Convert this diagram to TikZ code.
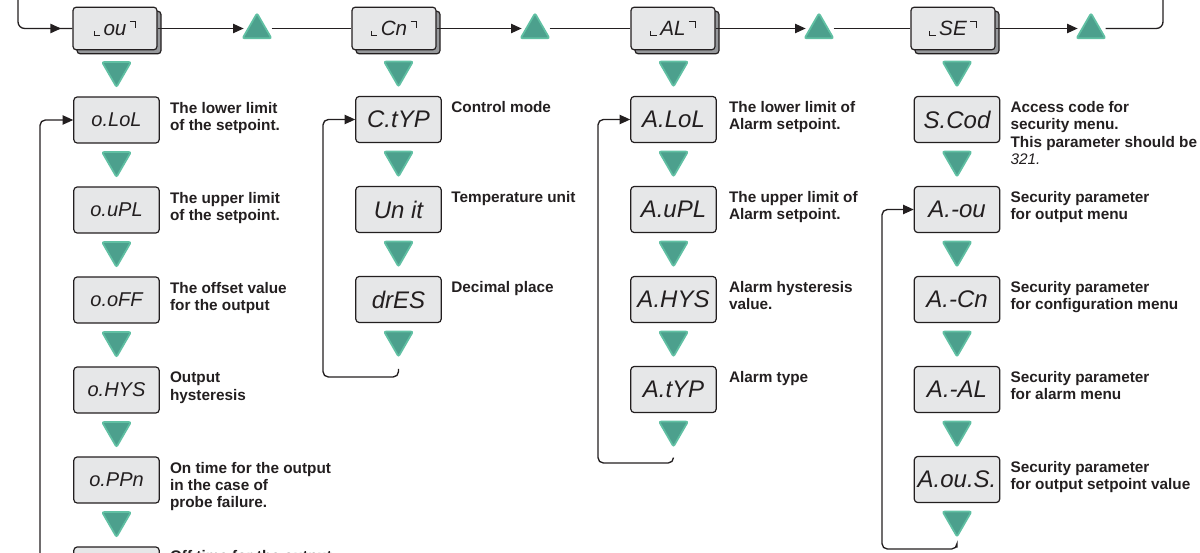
\documentclass[tikz,border=0pt]{standalone}
\usepackage{fontspec}
\setmainfont{Liberation Sans}
\newfontfamily\segfont{Liberation Sans}
\usetikzlibrary{shapes.geometric, arrows.meta, positioning, calc, shadows, decorations.markings}

\definecolor{ink}{RGB}{35,31,32}
\definecolor{panel}{RGB}{230,231,232}
\definecolor{panelshade}{RGB}{150,152,155}
\definecolor{keyfill}{RGB}{76,160,141}
\definecolor{keyedge}{RGB}{96,192,163}

\newcommand\segbig{\segfont\itshape\fontsize{18}{18}\selectfont}
\newcommand\segsmall{\segfont\itshape\fontsize{15}{15}\selectfont}
\newcommand\segtop{\segfont\itshape\fontsize{15.5}{15.5}\selectfont}
\newcommand\lcor{\rule{0.8pt}{3.5pt}\kern-0.8pt\rule{5pt}{0.8pt}\kern2.5pt}
\newcommand\rcor{\kern2.5pt\rule[10pt]{5pt}{0.8pt}\kern-0.8pt\rule[6pt]{0.8pt}{4.8pt}}

\begin{document}
\begin{tikzpicture}
  [x=0.75pt, y=-0.75pt,
  % display
  disp/.style = {rectangle,
    rounded corners=2.5pt,
    draw=ink, line width=0.9pt, fill=panel,
    minimum width=64pt, minimum height=34.5pt,
    inner sep=0pt, text=ink, font=\segbig},
  % menu key
  menu/.style = {disp, minimum width=63pt, minimum height=32pt, font=\segtop,
    copy shadow={shadow xshift=3pt, shadow yshift=-3pt,
      fill=panelshade, draw=ink, line width=0.9pt}},
  % triangles
  uptri/.style = {regular polygon, regular polygon sides=3,
    fill=keyfill, draw=keyedge, line width=1.3pt,
    rounded corners=1.5pt, inner sep=0pt, minimum size=25pt},
  dntri/.style = {uptri, shape border rotate=180},
  % text
  desc/.style = {anchor=north west, yshift=-4pt, align=left,
    inner sep=0pt, text=ink, font=\bfseries\fontsize{11.5}{13}\selectfont},
  % line
  link/.style = {draw=ink, line width=1pt},
  line/.style = {link, -{Triangle[length=8pt, width=7pt]}},
  node distance = 5.7pt
  ]

  \useasboundingbox (0,0) rectangle (1200,553);

  % menu row
  \node [menu] (lou) at (115,28.5) {\lcor ou\rcor};
  \node [menu] (cn) at (394,28.5) {\lcor Cn\rcor};
  \node [menu] (al) at (673,28.5) {\lcor AL\rcor};
  \node [menu] (se) at (953,28.5) {\lcor SE\rcor};
  \node [uptri] (up1) at (257,30) {};
  \node [uptri] (up2) at (535,30) {};
  \node [uptri] (up3) at (819,30) {};
  \node [uptri] (up4) at (1091,30) {};

  % output menu
  \node [disp, font=\segsmall] (olol) at (116.5,120) {o.LoL};
  \node [dntri, above= of olol] (dn1) {};
  \node [dntri, below= of olol] (t11) {};
  \node [disp, font=\segsmall, below= of t11] (oupl) {o.uPL};
  \node [dntri, below= of oupl] (t12) {};
  \node [disp, font=\segsmall, below= of t12] (ooff) {o.oFF};
  \node [dntri, below= of ooff] (t13) {};
  \node [disp, font=\segsmall, below= of t13] (ohys) {o.HYS};
  \node [dntri, below= of ohys] (t14) {};
  \node [disp, font=\segsmall, below= of t14] (oppn) {o.PPn};
  \node [dntri, below= of oppn] (t15) {};
  \node [disp, font=\segsmall, below= of t15] (oppf) {};

  \node [right=7.5pt of olol.north east, desc] (olol-d) {The lower limit\\of the setpoint.};
  \node [right=7.5pt of oupl.north east, desc] (oupl-d) {The upper limit\\of the setpoint.};
  \node [right=7.5pt of ooff.north east, desc] (ooff-d) {The offset value\\for the output};
  \node [right=7.5pt of ohys.north east, desc] (ohys-d) {Output\\hysteresis};
  \node [right=7.5pt of oppn.north east, desc] (oppn-d) {On time for the output\\in the case of\\probe failure.};
  \node [right=7.5pt of oppf.north east, desc, yshift=1pt] (oppf-d) {Off time for the output};

  % configuration menu
  \node [disp] (ctyp) at (398.5,119.5) {C.tYP};
  \node [dntri, above= of ctyp] (dn2) {};
  \node [dntri, below= of ctyp] (t21) {};
  \node [disp, below= of t21] (unit) {Un it};
  \node [dntri, below= of unit] (t22) {};
  \node [disp, below= of t22] (dres) {drES};
  \node [dntri, below= of dres] (t23) {};

  \node [right=7pt of ctyp.north east, desc] (ctyp-d) {Control mode};
  \node [right=7pt of unit.north east, desc] (unit-d) {Temperature unit};
  \node [right=7pt of dres.north east, desc] (dres-d) {Decimal place};

  % alarm menu
  \node [disp] (alol) at (673.5,119.5) {A.LoL};
  \node [dntri, above= of alol] (dn3) {};
  \node [dntri, below= of alol] (t31) {};
  \node [disp, below= of t31] (aupl) {A.uPL};
  \node [dntri, below= of aupl] (t32) {};
  \node [disp, below= of t32] (ahys) {A.HYS};
  \node [dntri, below= of ahys] (t33) {};
  \node [disp, below= of t33] (atyp) {A.tYP};
  \node [dntri, below= of atyp] (t34) {};

  \node [right=9pt of alol.north east, desc] (alol-d) {The lower limit of\\Alarm setpoint.};
  \node [right=9pt of aupl.north east, desc] (aupl-d) {The upper limit of\\Alarm setpoint.};
  \node [right=9pt of ahys.north east, desc] (ahys-d) {Alarm hysteresis\\value.};
  \node [right=9pt of atyp.north east, desc] (atyp-d) {Alarm type};

  % security menu
  \node [disp] (scod) at (957,119.5) {S.Cod};
  \node [dntri, above= of scod] (dn4) {};
  \node [dntri, below= of scod] (t41) {};
  \node [disp, below= of t41] (aou) {A.-ou};
  \node [dntri, below= of aou] (t42) {};
  \node [disp, below= of t42] (acn) {A.-Cn};
  \node [dntri, below= of acn] (t43) {};
  \node [disp, below= of t43] (aal) {A.-AL};
  \node [dntri, below= of aal] (t44) {};
  \node [disp, below= of t44] (aous) {A.ou.S.};
  \node [dntri, below= of aous] (t45) {};

  \node [right=7.5pt of scod.north east, desc] (scod-d) {Access code for\\security menu.\\This parameter should be\\{\mdseries\segfont\itshape 321.}};
  \node [right=7.5pt of aou.north east, desc] (aou-d) {Security parameter\\for output menu};
  \node [right=7.5pt of acn.north east, desc] (acn-d) {Security parameter\\for configuration menu};
  \node [right=7.5pt of aal.north east, desc] (aal-d) {Security parameter\\for alarm menu};
  \node [right=7.5pt of aous.north east, desc] (aous-d) {Security parameter\\for output setpoint value};

  % return points
  \coordinate (tr) at (1163,-15);
  \coordinate (tl) at (18,-15);
  \coordinate (c1) at (40,640);
  \coordinate (c2) at (323,377);
  \coordinate (c3) at (598,463);
  \coordinate (c4) at (882,549);

  % path
  \path [line, shorten >=10pt] (lou) -- (lou -| up1);
  \path [line, shorten >=10pt] (cn) -- (cn -| up2);
  \path [line, shorten >=10pt] (al) -- (al -| up3);
  \path [line, shorten >=10pt] (se) -- (se -| up4);
  \path [link, shorten <=11pt] (up1 |- cn) -- (cn);
  \path [link, shorten <=11pt] (up2 |- al) -- (al);
  \path [link, shorten <=11pt] (up3 |- se) -- (se);
  \path [link, rounded corners=5pt, shorten <=11pt,
    postaction={decorate},
    decoration={markings, mark=at position -8.5pt with {\arrow{Triangle[length=8pt, width=7pt]}}}]
    (up4 |- lou) -- (lou -| tr) -- (tr) -- (tl) -- (tl |- lou) -- (lou);
  \path [line, rounded corners=4pt] (c1) |- (olol);
  \path [line, rounded corners=4pt, shorten <=8pt] (t23.south) |- (c2) |- (ctyp);
  \path [line, rounded corners=4pt, shorten <=7pt] (t34.south) |- (c3) |- (alol);
  \path [line, rounded corners=4pt, shorten <=7pt] (t45.south) |- (c4) |- (aou);

\end{tikzpicture}
\end{document}
